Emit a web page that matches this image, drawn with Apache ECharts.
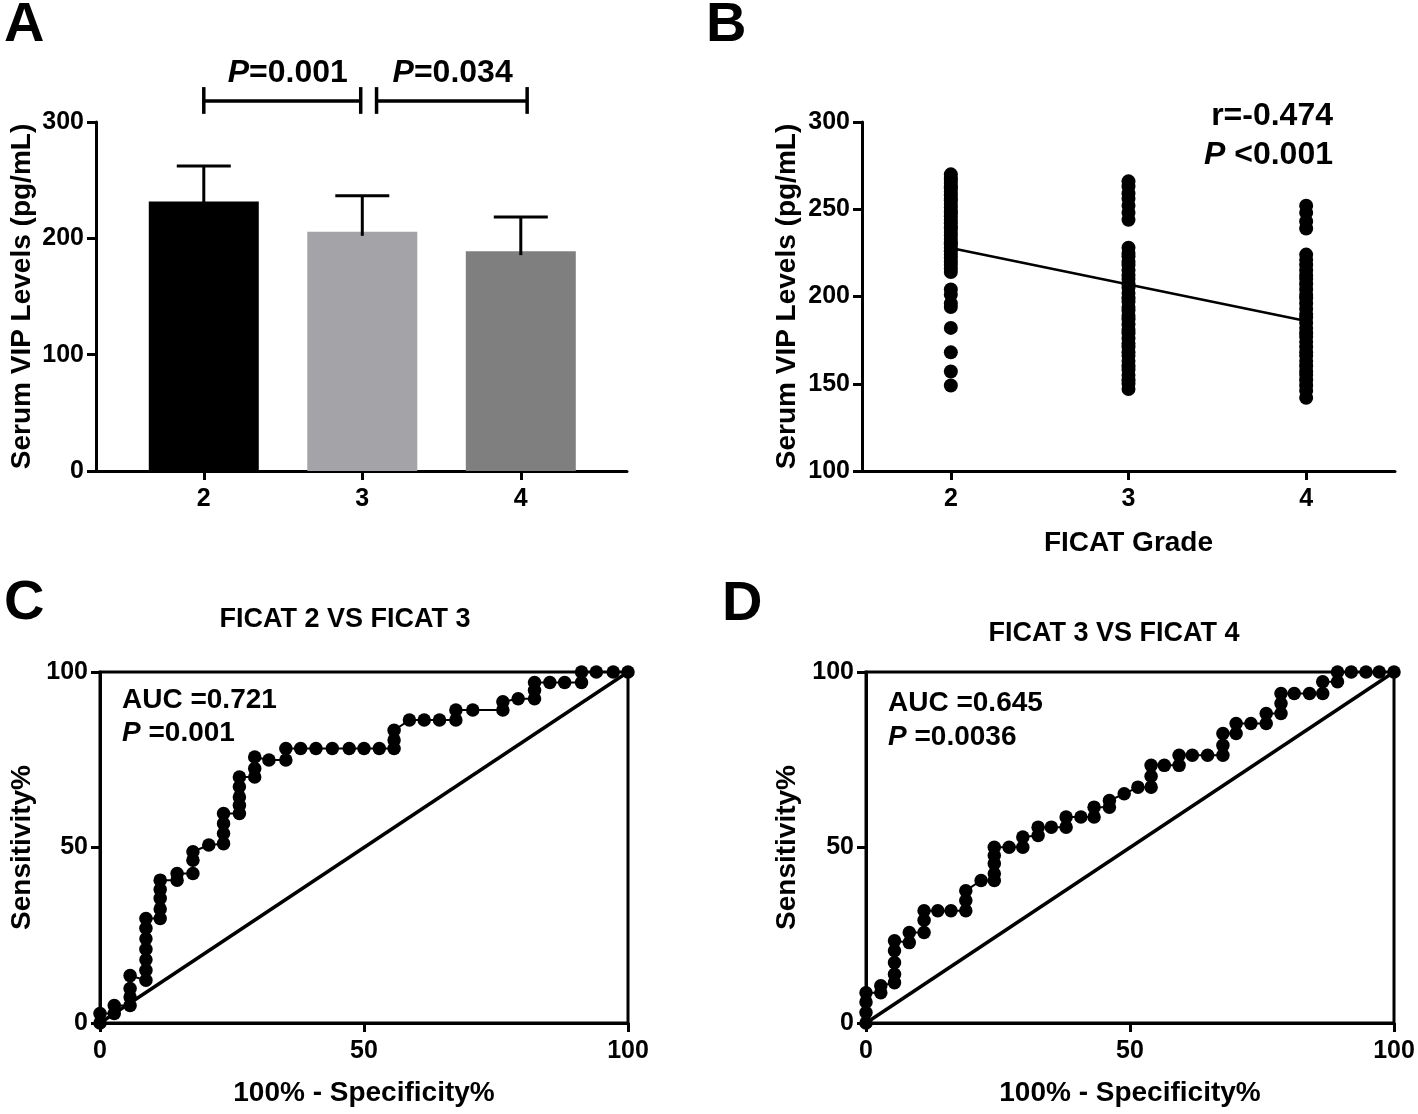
<!DOCTYPE html>
<html>
<head>
<meta charset="utf-8">
<script src="https://cdn.jsdelivr.net/npm/echarts/dist/echarts.min.js"></script>
<style>
html,body{margin:0;padding:0;background:#ffffff;}
#c{width:1418px;height:1114px;}
</style>
</head>
<body>
<div id="c"></div>
<script>
// ---------------- DATA ----------------
const gradeLabels = [2, 3, 4];
const barMeans = [231.6, 205.6, 189.0];
const barErrUpper = [262.2, 236.5, 218.4];

const bracketFrom = [2.0, 3.09];
const bracketTo = [2.99, 4.04];
const bracketTextX = [2.53, 3.57];
const bracketP = ['0.001', '0.034'];
const bracketLevel = 318;
const bracketTickLow = 307;
const bracketTickHigh = 330;
const bracketTextLevel = 342;

const vipGrade2 = [270, 268, 267, 265, 263, 262, 260, 258, 256, 255, 253, 251, 249, 248, 246, 244, 242, 240, 239, 237, 235, 233, 231, 230, 228, 226, 224, 222, 220, 218, 216, 214, 204, 201, 196, 194, 182, 168, 157, 149];
const vipGrade3 = [266, 263, 259, 256, 252, 248, 244, 228, 225, 223, 220, 218, 215, 212, 210, 207, 205, 202, 199, 197, 194, 192, 189, 187, 184, 181, 179, 176, 173, 171, 168, 166, 163, 160, 158, 155, 152, 150, 147];
const vipGrade4 = [252, 248, 243, 239, 224, 221, 218, 215, 212, 210, 207, 204, 201, 199, 196, 193, 190, 188, 185, 182, 179, 177, 174, 171, 168, 166, 163, 160, 157, 155, 152, 149, 146, 142];
const regGrades = [2, 4];
const regFit = [227.8, 186.0];

const rocC = [[0,0],[0,2.7],[2.7,2.7],[2.7,5],[5.7,5],[5.7,7.4],[5.7,9.8],[5.7,13.5],
  [8.7,12.2],[8.7,15],[8.7,18],[8.7,21],[8.7,24],[8.7,27],[8.7,29.8],
  [11.4,29.8],[11.4,32.5],[11.4,35.5],[11.4,38],[11.4,40.7],
  [14.6,40.7],[14.6,42.6],[17.6,42.6],[17.6,46.4],[17.6,48.8],[20.6,50.7],
  [23.4,51.1],[23.4,54],[23.4,56.8],[23.4,59.7],
  [26.4,59.7],[26.4,62],[26.4,64.4],[26.4,67.3],[26.4,70.1],
  [29.3,70.1],[29.3,72.5],[29.3,75.8],[32,74.9],[35.2,74.9],[35.2,78.2],
  [38,78.2],[40.9,78.2],[44,78.2],[47.2,78.2],[50,78.2],[52.9,78.2],
  [55.7,78.2],[55.7,80.6],[55.7,83.4],[58.6,86.3],[61.4,86.3],[64.3,86.3],
  [67.4,86.3],[67.4,89.2],[70.6,89.2],[76.3,89.2],[76.3,91.5],[79.2,92.4],
  [82.3,92.4],[82.3,94.8],[82.3,97],[85.2,97],[88,97],[91.2,97],[91.2,100],
  [94,100],[97.2,100],[100,100]];

const rocD = [[0,0],[0,3],[0,6],[0,8.6],[2.8,8.6],[2.8,10.6],
  [5.4,11.5],[5.4,13.9],[5.4,17.2],[5.4,20.6],[5.4,23.4],
  [8.2,22.9],[8.2,25.8],[11,25.8],[11,29.3],[11,32],[13.6,32],[16.1,32],
  [18.9,32],[18.9,34.9],[18.9,37.7],[21.8,40.6],
  [24.3,40.6],[24.3,42.5],[24.3,45.4],[24.3,47.7],[24.3,50.1],[27.1,50.1],
  [29.7,50.1],[29.7,53],[32.6,53.4],[32.6,55.8],[35.1,55.8],[37.9,55.8],[37.9,58.7],
  [40.7,58.7],[43.2,58.7],[43.2,61.5],[46.1,61.5],[46.1,63.4],[48.9,65.3],
  [51.5,67.2],[54,67.2],[54,70.3],[54,73.4],[56.5,73.4],[59.3,73.4],[59.3,76.3],
  [61.8,76.3],[64.7,76.3],[67.6,76.3],[67.6,79.1],[67.6,82.5],[70.1,82.5],[70.1,85.3],
  [72.9,85.3],[75.8,85.3],[75.8,88.2],[78.6,88.2],[78.6,91],[78.6,93.9],
  [81.1,93.9],[84,93.9],[86.5,93.9],[86.5,97.2],[89.3,97.2],[89.3,100],
  [91.9,100],[94.7,100],[97.2,100],[100,100]];
const refDiagonal = [[0,0],[100,100]];

// ---------------- STYLE ----------------
const FONT = '"Liberation Sans", Arial, Helvetica, sans-serif';
const barColors = ['#000000', '#a3a3a8', '#7f7f7f'];

function axisBase(extra) {
  const base = {
    axisLine: {show: true, onZero: false, lineStyle: {color: '#000', width: 3}},
    axisTick: {show: true, length: 9, lineStyle: {color: '#000', width: 3}},
    axisLabel: {color: '#000', fontFamily: FONT, fontWeight: 'bold', fontSize: 25, margin: 12},
    splitLine: {show: false},
    nameLocation: 'middle',
    nameTextStyle: {color: '#000', fontFamily: FONT, fontWeight: 'bold', fontSize: 28}
  };
  for (const k in extra) {
    if (typeof extra[k] === 'object' && !Array.isArray(extra[k]) && base[k]) {
      base[k] = Object.assign({}, base[k], extra[k]);
    } else base[k] = extra[k];
  }
  return base;
}

const richP = (size) => ({
  i: {fontStyle: 'italic', fontWeight: 'bold', fontSize: size, fontFamily: FONT, fill: '#000', color: '#000'}
});

const chart = echarts.init(document.getElementById('c'), null, {renderer: 'canvas', width: 1418, height: 1114});

const option = {
  animation: false,
  backgroundColor: '#ffffff',
  grid: [
    {left: 96, top: 122, width: 531, height: 349, outerBoundsMode: 'none'},
    {left: 862, top: 122, width: 533, height: 349, outerBoundsMode: 'none'},
    {left: 100, top: 672, width: 528, height: 351, show: true, borderColor: '#000', borderWidth: 3, outerBoundsMode: 'none'},
    {left: 866, top: 672, width: 528, height: 351, show: true, borderColor: '#000', borderWidth: 3, outerBoundsMode: 'none'}
  ],
  xAxis: [
    axisBase({gridIndex: 0, type: 'value', min: 1.32, max: 4.67,
      axisTick: {customValues: gradeLabels}, axisLabel: {customValues: gradeLabels, margin: 16}}),
    axisBase({gridIndex: 1, type: 'value', min: 1.5, max: 4.5, name: 'FICAT Grade', nameGap: 58,
      axisTick: {customValues: gradeLabels}, axisLabel: {customValues: gradeLabels, margin: 16}}),
    axisBase({gridIndex: 2, type: 'value', min: 0, max: 100, interval: 50, name: '100% - Specificity%', nameGap: 56,
      axisLabel: {margin: 16}}),
    axisBase({gridIndex: 3, type: 'value', min: 0, max: 100, interval: 50, name: '100% - Specificity%', nameGap: 56,
      axisLabel: {margin: 16}})
  ],
  yAxis: [
    axisBase({gridIndex: 0, type: 'value', min: 0, max: 300, interval: 100, name: 'Serum VIP Levels (pg/mL)', nameGap: 60}),
    axisBase({gridIndex: 1, type: 'value', min: 100, max: 300, interval: 50, name: 'Serum VIP Levels (pg/mL)', nameGap: 61}),
    axisBase({gridIndex: 2, type: 'value', min: 0, max: 100, interval: 50, name: 'Sensitivity%', nameGap: 64}),
    axisBase({gridIndex: 3, type: 'value', min: 0, max: 100, interval: 50, name: 'Sensitivity%', nameGap: 65})
  ],
  series: [
    {
      type: 'bar', xAxisIndex: 0, yAxisIndex: 0, barWidth: 110,
      data: gradeLabels.map((g, i) => ({value: [g, barMeans[i]], itemStyle: {color: barColors[i]}}))
    },
    {
      type: 'custom', xAxisIndex: 0, yAxisIndex: 0, z: 5, clip: false,
      encode: {x: 0, y: [1, 2]},
      data: gradeLabels.map((g, i) => [g, barMeans[i], barErrUpper[i]]),
      renderItem: function (params, api) {
        const x = api.value(0), m = api.value(1), u = api.value(2);
        const top = api.coord([x, u]);
        const mid = api.coord([x, m]);
        const st = {stroke: '#000', lineWidth: 3, fill: null};
        return {type: 'group', children: [
          {type: 'line', shape: {x1: top[0], y1: top[1], x2: mid[0], y2: mid[1] + 4}, style: st},
          {type: 'line', shape: {x1: top[0] - 27, y1: top[1], x2: top[0] + 27, y2: top[1]}, style: st}
        ]};
      }
    },
    {
      type: 'custom', xAxisIndex: 0, yAxisIndex: 0, z: 5, clip: false,
      encode: {x: [0, 1], y: 2},
      data: bracketFrom.map((f, i) => [f, bracketTo[i], bracketLevel]),
      renderItem: function (params, api) {
        const i = params.dataIndex;
        const f = api.value(0), t = api.value(1);
        const a = api.coord([f, bracketLevel]), b = api.coord([t, bracketLevel]);
        const aL = api.coord([f, bracketTickLow]), aH = api.coord([f, bracketTickHigh]);
        const bL = api.coord([t, bracketTickLow]), bH = api.coord([t, bracketTickHigh]);
        const tp = api.coord([bracketTextX[i], bracketTextLevel]);
        const st = {stroke: '#000', lineWidth: 3.5, fill: null};
        return {type: 'group', children: [
          {type: 'line', shape: {x1: a[0], y1: a[1], x2: b[0], y2: b[1]}, style: st},
          {type: 'line', shape: {x1: aL[0], y1: aL[1], x2: aH[0], y2: aH[1]}, style: st},
          {type: 'line', shape: {x1: bL[0], y1: bL[1], x2: bH[0], y2: bH[1]}, style: st},
          {type: 'text', x: tp[0], y: tp[1], style: {
            text: '{i|P}=' + bracketP[i], rich: richP(32),
            fontSize: 32, fontWeight: 'bold', fontFamily: FONT, fill: '#000',
            align: 'center', verticalAlign: 'middle'}}
        ]};
      }
    },
    {
      type: 'scatter', xAxisIndex: 1, yAxisIndex: 1, symbol: 'circle', symbolSize: 14,
      itemStyle: {color: '#000', opacity: 1},
      data: [].concat(
        vipGrade2.map(v => [2, v]),
        vipGrade3.map(v => [3, v]),
        vipGrade4.map(v => [4, v]))
    },
    {
      type: 'line', xAxisIndex: 1, yAxisIndex: 1, symbol: 'none', z: 4,
      lineStyle: {color: '#000', width: 2.5},
      data: regGrades.map((g, i) => [g, regFit[i]])
    },
    {
      type: 'line', xAxisIndex: 2, yAxisIndex: 2, symbol: 'none',
      lineStyle: {color: '#000', width: 3.5}, data: refDiagonal
    },
    {
      type: 'line', xAxisIndex: 2, yAxisIndex: 2, symbol: 'circle', symbolSize: 13.5, showSymbol: true,
      lineStyle: {color: '#000', width: 2}, itemStyle: {color: '#000', opacity: 1}, clip: false,
      data: rocC
    },
    {
      type: 'line', xAxisIndex: 3, yAxisIndex: 3, symbol: 'none',
      lineStyle: {color: '#000', width: 3.5}, data: refDiagonal
    },
    {
      type: 'line', xAxisIndex: 3, yAxisIndex: 3, symbol: 'circle', symbolSize: 13.5, showSymbol: true,
      lineStyle: {color: '#000', width: 2}, itemStyle: {color: '#000', opacity: 1}, clip: false,
      data: rocD
    }
  ],
  graphic: [
    {type: 'text', x: 4, y: 26, style: {text: 'A', fontSize: 56, fontWeight: 'bold', fontFamily: FONT, fill: '#000', align: 'left', verticalAlign: 'middle'}},
    {type: 'text', x: 706, y: 26, style: {text: 'B', fontSize: 56, fontWeight: 'bold', fontFamily: FONT, fill: '#000', align: 'left', verticalAlign: 'middle'}},
    {type: 'text', x: 4, y: 604, style: {text: 'C', fontSize: 56, fontWeight: 'bold', fontFamily: FONT, fill: '#000', align: 'left', verticalAlign: 'middle'}},
    {type: 'text', x: 722, y: 605, style: {text: 'D', fontSize: 56, fontWeight: 'bold', fontFamily: FONT, fill: '#000', align: 'left', verticalAlign: 'middle'}},
    {type: 'text', x: 1333, y: 116, style: {text: 'r=-0.474', fontSize: 32, fontWeight: 'bold', fontFamily: FONT, fill: '#000', align: 'right', verticalAlign: 'middle'}},
    {type: 'text', x: 1333, y: 155, style: {text: '{i|P} <0.001', rich: richP(32), fontSize: 32, fontWeight: 'bold', fontFamily: FONT, fill: '#000', align: 'right', verticalAlign: 'middle'}},
    {type: 'text', x: 345, y: 620, style: {text: 'FICAT 2 VS FICAT 3', fontSize: 27, fontWeight: 'bold', fontFamily: FONT, fill: '#000', align: 'center', verticalAlign: 'middle'}},
    {type: 'text', x: 1114, y: 634, style: {text: 'FICAT 3 VS FICAT 4', fontSize: 27, fontWeight: 'bold', fontFamily: FONT, fill: '#000', align: 'center', verticalAlign: 'middle'}},
    {type: 'text', x: 122, y: 700, style: {text: 'AUC =0.721', fontSize: 28, fontWeight: 'bold', fontFamily: FONT, fill: '#000', align: 'left', verticalAlign: 'middle'}},
    {type: 'text', x: 122, y: 733, style: {text: '{i|P} =0.001', rich: richP(28), fontSize: 28, fontWeight: 'bold', fontFamily: FONT, fill: '#000', align: 'left', verticalAlign: 'middle'}},
    {type: 'text', x: 888, y: 703, style: {text: 'AUC =0.645', fontSize: 28, fontWeight: 'bold', fontFamily: FONT, fill: '#000', align: 'left', verticalAlign: 'middle'}},
    {type: 'text', x: 888, y: 737, style: {text: '{i|P} =0.0036', rich: richP(28), fontSize: 28, fontWeight: 'bold', fontFamily: FONT, fill: '#000', align: 'left', verticalAlign: 'middle'}}
  ]
};

chart.setOption(option);
</script>
</body>
</html>
